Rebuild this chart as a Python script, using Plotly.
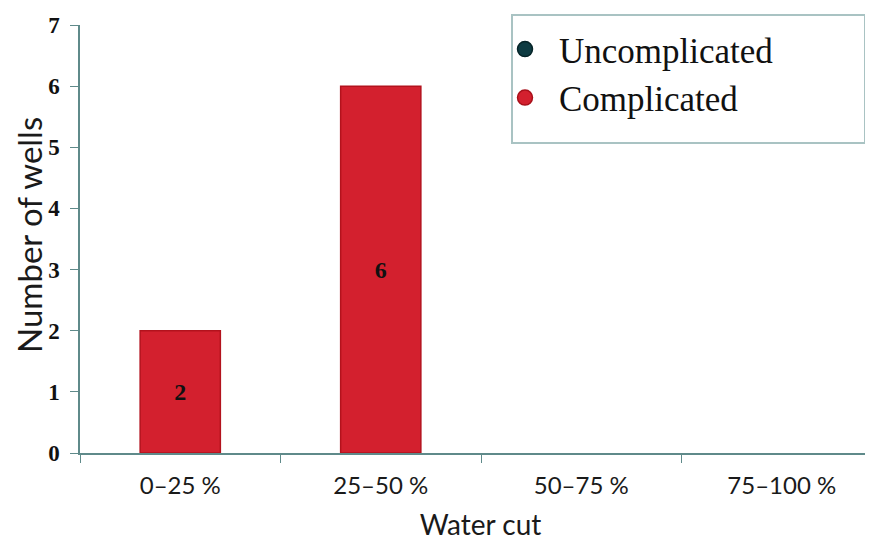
import plotly.graph_objects as go

categories = ["0–25 %", "25–50 %", "50–75 %", "75–100 %"]
complicated = [2, 6, 0, 0]
uncomplicated = [0, 0, 0, 0]
bar_labels = ["2", "6", "", ""]
y_ticks = [0, 1, 2, 3, 4, 5, 6, 7]

RED = "#d3202e"
TEAL = "#0e3b42"
AXIS = "#5f8a8a"

# page has an 8px body offset; work in page pixels
OFF = 8
L, T, B = 80 - OFF, 25 - OFF, 542 + OFF - 453
PW = 873 + OFF - 80  # plot width in px (extends past the right edge)


def px_x(page_x):
    return (page_x - 80) / PW


def px_y(page_y):
    return (453 - page_y) / 428


fig = go.Figure()
fig.add_trace(go.Bar(
    x=categories, y=complicated, text=bar_labels, textposition="inside",
    insidetextanchor="middle",
    textfont=dict(family="Liberation Serif", size=24, color="#111", weight="bold"),
    marker=dict(color=RED, line=dict(color="#b3121d",
                                     width=[1.5 if v else 0 for v in complicated])),
    width=0.4, showlegend=False, name="Complicated"))
fig.add_trace(go.Bar(
    x=categories, y=uncomplicated, width=0.4,
    marker=dict(color=TEAL, line=dict(width=0)),
    showlegend=False, name="Uncomplicated"))
# legend markers
fig.add_trace(go.Scatter(x=[None], y=[None], mode="markers", name="Uncomplicated",
                         marker=dict(color=TEAL, size=15, line=dict(color="#062428", width=1.5))))
fig.add_trace(go.Scatter(x=[None], y=[None], mode="markers", name="Complicated",
                         marker=dict(color=RED, size=15, line=dict(color="#a8101a", width=1.5))))

fig.update_layout(
    width=873, height=542,
    margin=dict(l=L, r=0, t=T, b=B, autoexpand=False),
    plot_bgcolor="white", paper_bgcolor="white",
    barmode="overlay",
    showlegend=True,
    legend=dict(x=px_x(491), y=1.012, xanchor="left", yanchor="top",
                bgcolor="rgba(255,255,255,0)", borderwidth=0,
                itemwidth=58,
                font=dict(family="Liberation Serif", size=35, color="#111"),
                tracegroupgap=0),
    shapes=[dict(type="rect", xref="paper", yref="paper",
                 x0=px_x(512), x1=px_x(865),
                 y0=px_y(143), y1=px_y(15),
                 line=dict(color="#a9c3c3", width=2), fillcolor="white", layer="above")],
    annotations=[dict(text="Number of wells", xref="paper", yref="paper",
                      x=px_x(29), y=px_y(235), xanchor="center", yanchor="middle",
                      textangle=-90, showarrow=False, borderpad=0,
                      font=dict(family="Lato", size=33, color="#1a1a1a"))],
)
fig.update_xaxes(
    range=[-0.5, -0.5 + PW / 200.5], showline=True, linecolor=AXIS, linewidth=1.5,
    ticks="outside", tickson="boundaries", ticklen=8, tickcolor=AXIS,
    tickfont=dict(family="Lato", size=24, color="#1a1a1a"),
    ticklabelstandoff=10,
    title=dict(text="Water cut", font=dict(family="Lato", size=28, color="#1a1a1a"), standoff=18),
    showgrid=False, zeroline=False)
fig.update_yaxes(
    range=[0, 7], tickvals=y_ticks, showline=True, linecolor=AXIS, linewidth=1.5,
    ticks="outside", ticklen=8, tickcolor=AXIS,
    tickfont=dict(family="Liberation Serif", size=23, color="#111", weight="bold"),
    ticklabelstandoff=6,
    showgrid=False, zeroline=False)

fig.write_html("out.html")
